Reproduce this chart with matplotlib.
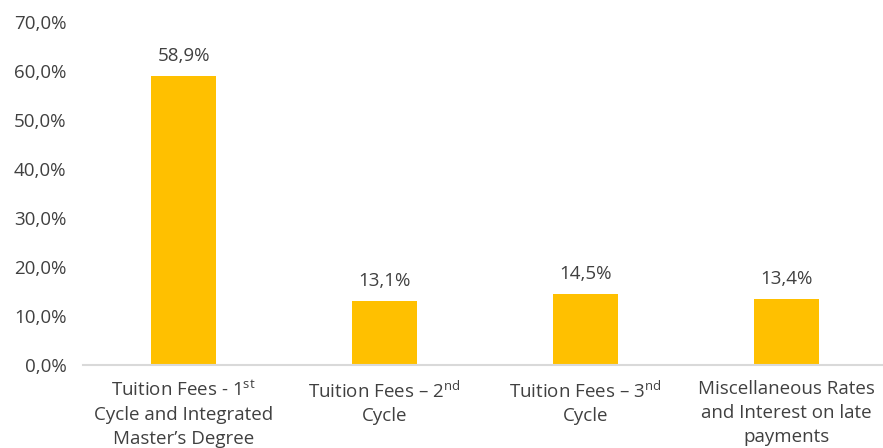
import matplotlib
matplotlib.use("Agg")
import matplotlib.pyplot as plt

categories = [
    "Tuition Fees - 1$^{\\mathrm{st}}$\nCycle and Integrated\nMaster\u2019s Degree",
    "Tuition Fees \u2013 2$^{\\mathrm{nd}}$\nCycle",
    "Tuition Fees \u2013 3$^{\\mathrm{nd}}$\nCycle",
    "Miscellaneous Rates\nand Interest on late\npayments",
]
values = [58.9, 13.1, 14.5, 13.4]
yticks = [0, 10, 20, 30, 40, 50, 60, 70]

FONT = "Open Sans"
plt.rcParams["font.family"] = [FONT, "DejaVu Sans"]
plt.rcParams["mathtext.fontset"] = "custom"
plt.rcParams["mathtext.rm"] = FONT
plt.rcParams["mathtext.it"] = FONT
plt.rcParams["mathtext.bf"] = FONT

txt = "#404040"
FS = 13.5
fig = plt.figure(figsize=(8.83, 4.48), dpi=100)
ax = fig.add_axes([83 / 883, 83 / 448, 1 - 83 / 883, (365 - 22) / 448])

x = list(range(len(values)))
ax.bar(x, values, width=0.32, color="#FFC000", zorder=2)
for xi, v in zip(x, values):
    ax.annotate(f"{v:.1f}%".replace(".", ","), (xi, v), xytext=(0, 8),
                textcoords="offset points", ha="center", va="bottom",
                fontsize=FS, color=txt)

ax.set_xlim(-0.5, 3.48)
ax.set_ylim(0, 70)
ax.set_yticks(yticks)
ax.set_yticklabels([f"{t:.1f}%".replace(".", ",") for t in yticks], fontsize=FS, color=txt)
ax.set_xticks(x)
ax.set_xticklabels(categories, fontsize=FS, color=txt, linespacing=1.42)
ax.tick_params(axis="both", length=0)
ax.tick_params(axis="y", pad=12)
ax.tick_params(axis="x", pad=11)
for s in ["top", "right", "left"]:
    ax.spines[s].set_visible(False)
ax.spines["bottom"].set_color("#D9D9D9")
ax.spines["bottom"].set_linewidth(1.5)

fig.savefig("out.png", dpi=100)
